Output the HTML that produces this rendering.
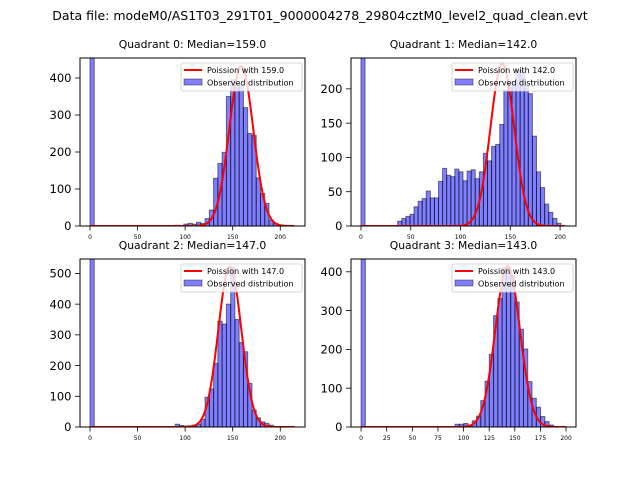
<!DOCTYPE html>
<html><head><meta charset="utf-8"><style>
body{margin:0;background:#fff;}
svg{display:block;font-family:"DejaVu Sans","Liberation Sans",sans-serif;}
</style></head><body>
<svg id="fig" width="640" height="480">
<text x="320" y="20" font-size="12.5" text-anchor="middle">Data file: modeM0/AS1T03_291T01_9000004278_29804cztM0_level2_quad_clean.evt</text>
</svg>
<script>
// Quadrant 0
const q0Start = 20;
const q0Counts = [2,0,5,7,5,10,7,20,43,129,169,199,350,395,375,380,320,250,245,130,88,61,16,7,3];
const q0Zero = 2000;
const q0Median = 159.0, q0Peak = 432;
// Quadrant 1
const q1Start = 9;
const q1Counts = [7,11,14,17,28,36,40,51,41,41,65,84,74,72,83,79,66,80,82,69,79,106,95,116,119,148,198,202,211,227,227,204,193,131,79,56,32,20,11,4];
const q1Zero = 2000;
const q1Median = 142.0, q1Peak = 237;
// Quadrant 2
const q2Start = 20;
const q2Counts = [9,5,3,4,6,9,25,97,124,207,345,335,400,520,350,275,245,142,55,30,17,12,6];
const q2Zero = 2000;
const q2Median = 147.0, q2Peak = 522;
// Quadrant 3
const q3Start = 22;
const q3Counts = [7,7,9,5,16,28,68,118,187,287,331,410,410,390,322,252,201,117,74,51,27,14,5];
const q3Zero = 2000;
const q3Median = 143.0, q3Peak = 415;
// axis ticks
const xTicksA = [0,50,100,150,200];
const xTicksB = [0,25,50,75,100,125,150,175,200];
const yTicks0 = [0,100,200,300,400];
const yTicks1 = [0,50,100,150,200];
const yTicks2 = [0,100,200,300,400,500];
const yTicks3 = [0,100,200,300,400];

const NS="http://www.w3.org/2000/svg";
const fig=document.getElementById('fig');
function mk(tag,attrs,parent){const e=document.createElementNS(NS,tag);for(const k in attrs)e.setAttribute(k,attrs[k]);(parent||fig).appendChild(e);return e;}

const panels=[
 {name:'q0',title:'Quadrant 0: Median='+q0Median.toFixed(1),x0:80,x1:305,y0:58,y1:226,xmin:-10.5,xmax:226,ymax:454,bw:4.48,start:q0Start,counts:q0Counts,zero:q0Zero,med:q0Median,peak:q0Peak,xt:xTicksA,yt:yTicks0,xend:215},
 {name:'q1',title:'Quadrant 1: Median='+q1Median.toFixed(1),x0:351,x1:576,y0:58,y1:226,xmin:-10,xmax:216,ymax:245,bw:4.1,start:q1Start,counts:q1Counts,zero:q1Zero,med:q1Median,peak:q1Peak,xt:xTicksA,yt:yTicks1,xend:205},
 {name:'q2',title:'Quadrant 2: Median='+q2Median.toFixed(1),x0:80,x1:305,y0:259,y1:427,xmin:-10.5,xmax:226,ymax:547,bw:4.48,start:q2Start,counts:q2Counts,zero:q2Zero,med:q2Median,peak:q2Peak,xt:xTicksA,yt:yTicks2,xend:215},
 {name:'q3',title:'Quadrant 3: Median='+q3Median.toFixed(1),x0:351,x1:576,y0:259,y1:427,xmin:-9.85,xmax:209.7,ymax:433,bw:4.17,start:q3Start,counts:q3Counts,zero:q3Zero,med:q3Median,peak:q3Peak,xt:xTicksB,yt:yTicks3,xend:200}
];

panels.forEach(p=>{
 const g=mk('g',{});
 
 
 const sx=v=>p.x0+(v-p.xmin)/(p.xmax-p.xmin)*(p.x1-p.x0);
 const sy=v=>p.y1-Math.min(v,p.ymax)/p.ymax*(p.y1-p.y0);
 const clipId='clip-'+p.name;
 const cp=mk('clipPath',{id:clipId},g);
 mk('rect',{x:p.x0,y:p.y0,width:p.x1-p.x0,height:p.y1-p.y0},cp);
 const plot=mk('g',{'clip-path':'url(#'+clipId+')'},g);
 const zb=mk('rect',{x:sx(0),y:sy(p.zero),width:sx(p.bw)-sx(0),height:p.y1-sy(p.zero),fill:'rgba(0,0,255,0.5)',stroke:'rgba(0,0,0,0.5)','stroke-width':1},plot);
 
 
 p.counts.forEach((c,i)=>{
  const a=(p.start+i)*p.bw;
  if(c<=0)return;
  const r=mk('rect',{x:sx(a),y:sy(c),width:sx(a+p.bw)-sx(a),height:p.y1-sy(c),fill:'rgba(0,0,255,0.5)',stroke:'rgba(0,0,0,0.5)','stroke-width':1},plot);
  
  
 });
 let d='';
 const sd=Math.sqrt(p.med);
 for(let v=0;v<=p.xend;v+=0.5){
  const y=p.peak*Math.exp(-Math.pow(v-p.med,2)/(2*sd*sd));
  d+=(d?'L':'M')+sx(v).toFixed(2)+','+sy(y).toFixed(2);
 }
 const pl=mk('path',{d:d,fill:'none',stroke:'#ff0000','stroke-width':2},plot);
 
 
 mk('rect',{x:p.x0,y:p.y0,width:p.x1-p.x0,height:p.y1-p.y0,fill:'none',stroke:'#000','stroke-width':1},g);
 p.xt.forEach(t=>{
  const x=sx(t);
  mk('line',{x1:x,x2:x,y1:p.y1,y2:p.y1+4.5,stroke:'#000','stroke-width':0.8},g);
  const tx=mk('text',{x:x,y:p.y1+13,'font-size':6,'text-anchor':'middle'},g);
  tx.textContent=t;
  
  
 });
 p.yt.forEach(t=>{
  const y=sy(t);
  mk('line',{x1:p.x0-5,x2:p.x0,y1:y,y2:y,stroke:'#000','stroke-width':0.8},g);
  const tx=mk('text',{x:p.x0-8.5,y:y+4.2,'font-size':11.5,'text-anchor':'end'},g);
  tx.textContent=t;
  
  
 });
 const tt=mk('text',{x:(p.x0+p.x1)/2,y:p.y0-10,'font-size':10.8,'text-anchor':'middle'},g);
 tt.textContent=p.title;
 
 
 const lg=mk('g',{},g);
 
 
 const lx=p.x1-124, ly=p.y0+5;
 mk('rect',{x:lx,y:ly,width:121,height:28,rx:2,fill:'rgba(255,255,255,0.8)',stroke:'#ccc','stroke-width':0.8},lg);
 mk('line',{x1:lx+3,x2:lx+21,y1:ly+7,y2:ly+7,stroke:'#ff0000','stroke-width':2},lg);
 const t1=mk('text',{x:lx+26,y:ly+9.8,'font-size':8},lg);
 t1.textContent='Poission with '+p.med.toFixed(1);
 mk('rect',{x:lx+3,y:ly+16,width:18,height:6,fill:'rgba(0,0,255,0.5)',stroke:'rgba(0,0,0,0.5)','stroke-width':0.8},lg);
 const t2=mk('text',{x:lx+26,y:ly+22.5,'font-size':8},lg);
 t2.textContent='Observed distribution';
});
</script>
</body></html>
